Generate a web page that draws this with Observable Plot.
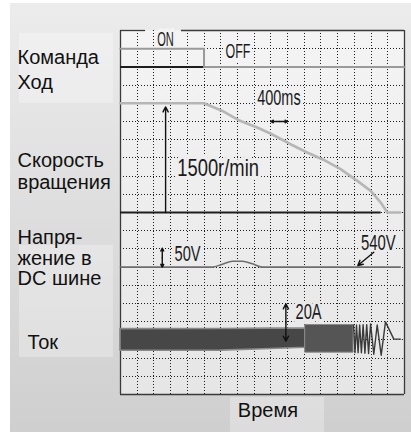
<!DOCTYPE html>
<html><head><meta charset="utf-8">
<script src="https://cdn.jsdelivr.net/npm/d3@7"></script>
<script src="https://cdn.jsdelivr.net/npm/@observablehq/plot@0.6"></script>
<style>
html,body{margin:0;padding:0;background:#fff;}
#wrap{position:relative;width:411px;height:432px;overflow:hidden;background:#fff;}
#bg{position:absolute;left:10px;top:3px;right:0;bottom:0;background:linear-gradient(#ececec,#cfcfcf);}
.box{position:absolute;background:rgba(255,255,255,0.28);}
#chart{position:absolute;left:0;top:0;}
</style></head>
<body>
<div id="wrap">
  <div id="bg"></div>
  <div class="box" style="left:19px;top:33px;width:94px;height:70px"></div>
  <div class="box" style="left:19px;top:245px;width:94px;height:112px"></div>
  <div class="box" style="left:230px;top:397px;width:94px;height:35px"></div>
  <div id="chart"></div>
</div>
<script>
// ---------------- data ----------------
// time axis: 17 divisions of 400 ms
const gridTime = [400, 800, 1200, 1600, 2000, 2400, 2800, 3200, 3600, 4000, 4400, 4800, 5200, 5600, 6000, 6400];
const gridDiv  = [1, 2, 3, 4, 5, 6, 7, 8, 9, 10, 11, 12, 13, 14, 15, 16, 17, 18, 19];

// run command (1 = ON, 0 = OFF)
const cmdTime  = [0, 2000, 2000, 6800];
const cmdState = [1, 1, 0, 0];

// rotation speed, r/min
const speedTime = [0, 2000, 2470, 2830, 3270, 3590, 4070, 4470, 4870, 5270, 5670, 5990, 6230, 6390, 6700];
const speedRpm  = [1500, 1500, 1387, 1268, 1168, 1085, 938, 824, 722, 595, 434, 297, 137, 0, 0];

// DC bus voltage, V
const voltTime = [0, 2200, 2440, 2680, 2920, 3160, 3390, 6700];
const voltV    = [540, 540, 548, 556, 556, 549, 540, 540];

// current, A : dense envelope, then wider envelope, then visible oscillations
const bandTime  = [0, 2400, 3600, 4430];
const bandUpper = [5.9, 6.0, 6.2, 6.3];
const bandLower = [-6.0, -5.9, -5.0, -4.3];
const midTime   = [4430, 5580];
const midUpper  = [8.2, 8.2];
const midLower  = [-7.0, -7.0];
const waveTime  = [5580, 5615, 5651, 5689, 5727, 5768, 5809, 5852, 5895, 5940, 5988, 6065, 6146, 6242, 6345, 6544, 6704];
const waveAmp   = [8.2, -7.0, 8.2, -7.0, 8.2, -7.1, 8.3, -7.3, 8.4, -7.5, 8.8, -7.9, 8.2, -8.4, 9.9, 0.4, 0.4];

// annotations
const labelText = ["ON", "OFF", "400ms", "1500r/min", "50V", "540V", "20A"];
const labelTime = [880, 2514, 3273, 1358, 1293, 5760, 4190];
const labelDiv  = [19.15, 18.5, 15.88, 12.0, 7.36, 7.95, 4.16];
const labelSize = [21, 21, 22, 23, 22, 22, 22];

const sideText = ["Команда", "Ход", "Скорость", "вращения", "Напря-", "жение в", "DC шине"];
const sideDiv  = [18.17, 16.8, 12.49, 11.3, 8.28, 7.09, 5.99];

// ---------------- trace offsets (in grid divisions) ----------------
const cmdBase = 18, speedZero = 10, rpmPerDiv = 250;
const voltBase = 7, voltRef = 540, voltPerDiv = 50;
const curZero = 3, ampPerDiv = 10;

const cmd   = cmdTime.map((t, i) => ({t, d: cmdBase + cmdState[i]}));
const speed = speedTime.map((t, i) => ({t, d: speedZero + speedRpm[i] / rpmPerDiv}));
const volt  = voltTime.map((t, i) => ({t, d: voltBase + (voltV[i] - voltRef) / voltPerDiv}));
const band  = bandTime.map((t, i) => ({t, hi: curZero + bandUpper[i] / ampPerDiv, lo: curZero + bandLower[i] / ampPerDiv}));
const mid   = midTime.map((t, i) => ({t, hi: curZero + midUpper[i] / ampPerDiv, lo: curZero + midLower[i] / ampPerDiv}));
const wave  = waveTime.map((t, i) => ({t, d: curZero + waveAmp[i] / ampPerDiv}));

const innerTop = "#f4f4f4", innerBottom = "#e6e6e6";
const haloColor = d3.interpolateRgb(innerTop, innerBottom);
const labels = labelText.map((text, i) => ({text, t: labelTime[i], d: labelDiv[i], size: labelSize[i],
  halo: haloColor(1 - labelDiv[i] / 20)}));
const side = sideText.map((text, i) => ({text, d: sideDiv[i]}));

const refLines = [{d: cmdBase, x1: 0, x2: 6800}, {d: speedZero, x1: 0, x2: 6240}];
const topFrame = [{x1: 0, x2: 600}, {x1: 1460, x2: 6800}];

const singleArrows = [
  {t1: 1080, d1: 10, t2: 1080, d2: 15.8},
  {t1: 6065, d1: 7.82, t2: 5682, d2: 7.09}
];
const doubleArrows = [
  {t1: 3600, d1: 15, t2: 4000, d2: 15},
  {t1: 1000, d1: 7, t2: 1000, d2: 8.04},
  {t1: 3960, d1: 2.93, t2: 3960, d2: 4.98}
];
const arrowSegs = singleArrows.concat(doubleArrows.flatMap(a => {
  const tm = (a.t1 + a.t2) / 2, dm = (a.d1 + a.d2) / 2;
  return [{t1: tm, d1: dm, t2: a.t1, d2: a.d1}, {t1: tm, d1: dm, t2: a.t2, d2: a.d2}];
}));

const narrowFont = "Liberation Sans, Arial, sans-serif";
const sideFont = "Liberation Sans, Arial, sans-serif";

const svg = Plot.plot({
  width: 411, height: 432,
  marginLeft: 120, marginRight: 7, marginTop: 30, marginBottom: 38,
  x: {domain: [0, 6800], axis: null},
  y: {domain: [0, 20], axis: null},
  style: {background: "transparent", overflow: "visible"},
  marks: [
    Plot.frame({fill: "url(#innerGrad)", stroke: null}),
    Plot.ruleX(gridTime, {stroke: "#1e1e1e", strokeWidth: 1, strokeDasharray: "1,2", shapeRendering: "crispEdges"}),
    Plot.ruleY(gridDiv, {stroke: "#1e1e1e", strokeWidth: 1, strokeDasharray: "1,2", shapeRendering: "crispEdges"}),
    Plot.text(labels, {x: "t", y: "d", text: "text", fontSize: "size", fontFamily: narrowFont,
      textAnchor: "start", lineAnchor: "bottom", fill: "#1a1a1a", stroke: "halo", strokeWidth: 8}),
    Plot.ruleX([0, 6800], {stroke: "#3a3a3a", strokeWidth: 1.3}),
    Plot.ruleY([0], {stroke: "#3a3a3a", strokeWidth: 1.3}),
    Plot.ruleY(topFrame, {y: 20, x1: "x1", x2: "x2", stroke: "#3a3a3a", strokeWidth: 1.3}),
    Plot.ruleY(refLines, {y: "d", x1: "x1", x2: "x2", stroke: "#1e1e1e", strokeWidth: 2}),
    Plot.line(cmd, {x: "t", y: "d", stroke: "#9a9a9a", strokeWidth: 2}),
    Plot.line(speed, {x: "t", y: "d", stroke: "#b6b6b6", strokeWidth: 2.6}),
    Plot.line(volt, {x: "t", y: "d", stroke: "#6e6e6e", strokeWidth: 1.6, curve: "monotone-x"}),
    Plot.areaY(band, {x: "t", y1: "lo", y2: "hi", fill: "#474747", stroke: "#8a8a8a", strokeWidth: 1.6}),
    Plot.areaY(mid, {x: "t", y1: "lo", y2: "hi", fill: "#555", stroke: "#8a8a8a", strokeWidth: 1}),
    Plot.line(wave, {x: "t", y: "d", stroke: "#3a3a3a", strokeWidth: 1.4}),
    Plot.arrow(arrowSegs, {x1: "t1", y1: "d1", x2: "t2", y2: "d2", stroke: "#111", strokeWidth: 1.4,
      headLength: 6, headAngle: 55}),
    Plot.text(side, {y: "d", text: "text", frameAnchor: "left", dx: -103, textAnchor: "start",
      lineAnchor: "bottom", fontSize: 20, fontFamily: sideFont, fill: "#111"}),
    Plot.text([{text: "Ток", d: 2.51}], {y: "d", text: "text", frameAnchor: "left", dx: -93, textAnchor: "start",
      lineAnchor: "bottom", fontSize: 20, fontFamily: sideFont, fill: "#111"}),
    Plot.text([{text: "Время", t: 2809, d: -1.25}], {x: "t", y: "d", text: "text", textAnchor: "start",
      lineAnchor: "bottom", fontSize: 20, fontFamily: sideFont, fill: "#111"})
  ]
});

// gradient for the oscilloscope screen
const defs = d3.select(svg).insert("defs", ":first-child");
const g = defs.append("linearGradient").attr("id", "innerGrad").attr("x1", 0).attr("y1", 0).attr("x2", 0).attr("y2", 1);
g.append("stop").attr("offset", "0%").attr("stop-color", innerTop);
g.append("stop").attr("offset", "100%").attr("stop-color", innerBottom);

document.getElementById("chart").appendChild(svg);

// half-width glyph look for the scope annotations: squeeze horizontally around the anchor
const sizeOf = new Map(labels.map(l => [l.text, l.size]));
svg.querySelectorAll("text").forEach(el => {
  const s = sizeOf.get(el.textContent);
  if (!s) return;
  const target = el.textContent.length * s * 0.395;
  const natural = el.getComputedTextLength();
  if (!natural) return;
  const sx = Math.min(1, target / natural);
  const tr = el.getAttribute("transform");
  if (tr) {
    el.setAttribute("transform", tr + ` scale(${sx},1)`);
  } else {
    const x = +el.getAttribute("x") || 0, y = +el.getAttribute("y") || 0;
    el.setAttribute("transform", `translate(${x},${y}) scale(${sx},1) translate(${-x},${-y})`);
  }
});
</script>
</body></html>
